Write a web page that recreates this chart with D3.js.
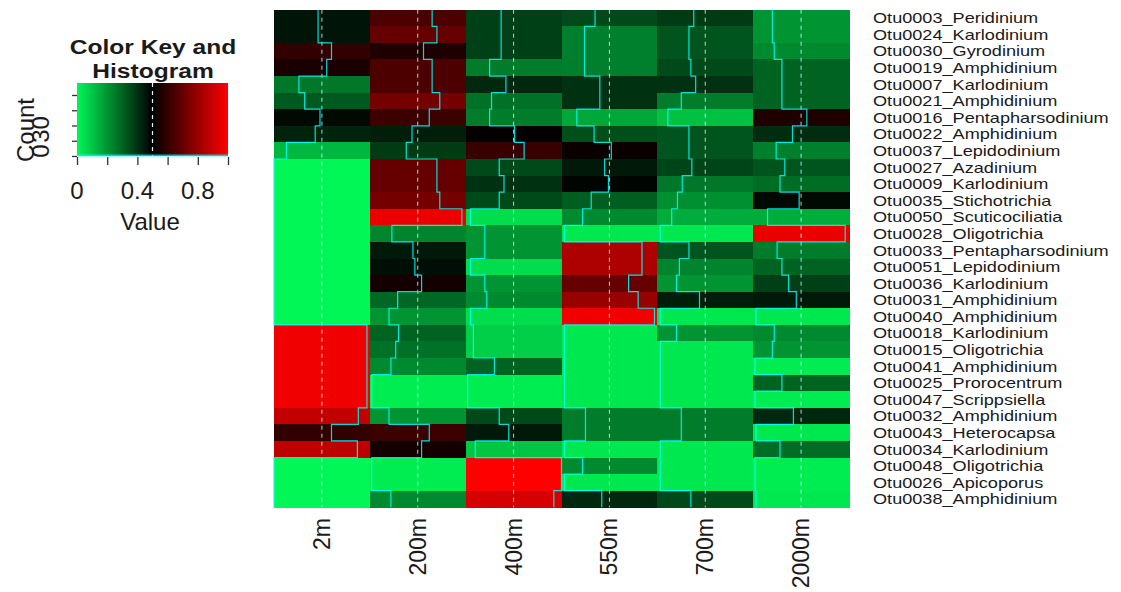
<!DOCTYPE html>
<html>
<head>
<meta charset="utf-8">
<script src="https://cdn.jsdelivr.net/npm/d3@7"></script>
<style>
  body { margin: 0; background: #fff; }
  svg { display: block; }
  text { font-family: "Liberation Sans", Arial, Helvetica, sans-serif; fill: #1a1a1a; }
</style>
</head>
<body>
<svg id="chart" width="1121" height="592"></svg>
<script>
// Sampling depths (heatmap columns)
const depths = ["2m", "200m", "400m", "550m", "700m", "2000m"];

// OTUs in dendrogram order (heatmap rows, top to bottom)
const otus = [
  "Otu0003_Peridinium", "Otu0024_Karlodinium", "Otu0030_Gyrodinium", "Otu0019_Amphidinium",
  "Otu0007_Karlodinium", "Otu0021_Amphidinium", "Otu0016_Pentapharsodinium", "Otu0022_Amphidinium",
  "Otu0037_Lepidodinium", "Otu0027_Azadinium", "Otu0009_Karlodinium", "Otu0035_Stichotrichia",
  "Otu0050_Scuticociliatia", "Otu0028_Oligotrichia", "Otu0033_Pentapharsodinium", "Otu0051_Lepidodinium",
  "Otu0036_Karlodinium", "Otu0031_Amphidinium", "Otu0040_Amphidinium", "Otu0018_Karlodinium",
  "Otu0015_Oligotrichia", "Otu0041_Amphidinium", "Otu0025_Prorocentrum", "Otu0047_Scrippsiella",
  "Otu0032_Amphidinium", "Otu0043_Heterocapsa", "Otu0034_Karlodinium", "Otu0048_Oligotrichia",
  "Otu0026_Apicoporus", "Otu0038_Amphidinium"
];

// Scaled relative abundance (0..1) per depth, one value per OTU in the order above
const v2m    = [0.46, 0.46, 0.60, 0.55, 0.26, 0.32, 0.48, 0.43, 0.13, 0.00, 0.00, 0.00, 0.00, 0.00, 0.00,
                0.00, 0.00, 0.00, 0.00, 0.97, 0.97, 0.97, 0.97, 0.97, 0.88, 0.60, 0.87, 0.00, 0.00, 0.00];
const v200m  = [0.65, 0.70, 0.56, 0.65, 0.65, 0.73, 0.62, 0.44, 0.38, 0.70, 0.70, 0.73, 0.96, 0.23, 0.45,
                0.47, 0.54, 0.29, 0.20, 0.30, 0.27, 0.22, 0.02, 0.02, 0.20, 0.62, 0.54, 0.02, 0.02, 0.22];
const v400m  = [0.37, 0.37, 0.37, 0.25, 0.42, 0.27, 0.25, 0.51, 0.61, 0.35, 0.40, 0.35, 0.05, 0.20, 0.20,
                0.05, 0.20, 0.22, 0.05, 0.08, 0.08, 0.30, 0.02, 0.02, 0.35, 0.45, 0.10, 1.00, 1.00, 0.92];
const v550m  = [0.35, 0.24, 0.24, 0.24, 0.40, 0.40, 0.16, 0.34, 0.52, 0.45, 0.49, 0.31, 0.22, 0.03, 0.84,
                0.84, 0.70, 0.80, 0.97, 0.03, 0.03, 0.03, 0.03, 0.03, 0.25, 0.25, 0.03, 0.22, 0.03, 0.42];
const v700m  = [0.38, 0.33, 0.33, 0.35, 0.40, 0.25, 0.11, 0.33, 0.33, 0.36, 0.26, 0.21, 0.15, 0.03, 0.33,
                0.23, 0.20, 0.44, 0.03, 0.20, 0.03, 0.03, 0.03, 0.03, 0.25, 0.25, 0.03, 0.03, 0.03, 0.35];
const v2000m = [0.20, 0.20, 0.22, 0.30, 0.30, 0.30, 0.56, 0.41, 0.24, 0.33, 0.28, 0.48, 0.15, 0.96, 0.25,
                0.30, 0.37, 0.45, 0.03, 0.22, 0.20, 0.02, 0.30, 0.02, 0.42, 0.03, 0.28, 0.02, 0.02, 0.03];

const seriesByDepth = [v2m, v200m, v400m, v550m, v700m, v2000m];

// Colour key axis
const keyTicks = [0, 0.2, 0.4, 0.6, 0.8, 1];
const keyLabels = [0, 0.4, 0.8];
const countTicks = [0, 15, 30, 45, 60];
const countLabels = [0, 30];
const traceLevel = 0.5;
const keyTitle = ["Color Key and", "Histogram"];

const svg = d3.select("#chart");

const color = d3.scaleLinear()
  .domain([0, 0.5, 1])
  .range(["#00f755", "#000000", "#ff0000"])
  .interpolate(d3.interpolateRgb);

const x = d3.scaleBand().domain(depths).range([274, 849]).padding(0);
const y = d3.scaleBand().domain(otus).range([9.7, 507.3]).padding(0);

// Long-format table for the cells
const cells = [];
depths.forEach((d, i) => otus.forEach((o, j) => cells.push({ depth: d, otu: o, value: seriesByDepth[i][j] })));

const heat = svg.append("g");
heat.selectAll("rect")
  .data(cells)
  .join("rect")
  .attr("x", d => x(d.depth))
  .attr("y", d => y(d.otu))
  .attr("width", x.bandwidth() + 0.6)
  .attr("height", y.bandwidth() + 0.6)
  .attr("fill", d => color(d.value))
  .attr("shape-rendering", "crispEdges");

// Column traces: dashed reference line at 0.5 and a step line at each cell's value
const traceCol = "#00ffff";
const traces = svg.append("g");
depths.forEach((d, i) => {
  const xc = d3.scaleLinear().domain([0, 1]).range([x(d), x(d) + x.bandwidth()]);
  traces.append("line")
    .attr("x1", xc(traceLevel)).attr("x2", xc(traceLevel))
    .attr("y1", y.range()[0]).attr("y2", y.range()[1])
    .attr("stroke", "#b8ffff").attr("stroke-width", 1)
    .attr("stroke-dasharray", "4,4").attr("opacity", 0.85);
  const pts = [];
  otus.forEach((o, j) => {
    const v = seriesByDepth[i][j];
    pts.push([xc(v), y(o)]);
    pts.push([xc(v), y(o) + y.bandwidth()]);
  });
  traces.append("path")
    .attr("d", d3.line()(pts))
    .attr("fill", "none")
    .attr("stroke", traceCol)
    .attr("stroke-width", 1.2)
    .attr("opacity", 0.85);
});

// Row labels (slightly widened glyphs)
svg.append("g").selectAll("text")
  .data(otus)
  .join("text")
  .attr("transform", d => `translate(873,${y(d) + y.bandwidth() / 2}) scale(1.25,1)`)
  .attr("dominant-baseline", "central")
  .attr("font-size", 14.5)
  .attr("fill", "#222")
  .text(d => d);

// Column labels
svg.append("g").selectAll("text")
  .data(depths)
  .join("text")
  .attr("transform", d => `translate(${x(d) + x.bandwidth() / 2},518) rotate(-90)`)
  .attr("text-anchor", "end")
  .attr("dominant-baseline", "central")
  .attr("font-size", 23)
  .text(d => d);

// ---- Colour key with histogram ----
const kx = d3.scaleLinear().domain([0, 1]).range([77, 228]);
const ky = d3.scaleLinear().domain([0, 60]).range([156, 95]);
const keyTop = 83, keyBottom = 156;

const grad = svg.append("defs").append("linearGradient").attr("id", "keygrad");
d3.range(0, 1.0001, 0.05).forEach(t => {
  grad.append("stop").attr("offset", t).attr("stop-color", color(t));
});
svg.append("rect")
  .attr("x", kx(0)).attr("y", keyTop)
  .attr("width", kx(1) - kx(0)).attr("height", keyBottom - keyTop)
  .attr("fill", "url(#keygrad)");

svg.append("line")
  .attr("x1", kx(traceLevel)).attr("x2", kx(traceLevel))
  .attr("y1", keyTop).attr("y2", keyBottom)
  .attr("stroke", "#e8ffff").attr("stroke-dasharray", "4,4").attr("stroke-width", 1.2);

// histogram trace along the key floor
svg.append("line")
  .attr("x1", kx(0)).attr("x2", kx(1))
  .attr("y1", keyBottom - 0.5).attr("y2", keyBottom - 0.5)
  .attr("stroke", traceCol).attr("stroke-width", 2).attr("opacity", 0.7);

const xAxis = svg.append("g")
  .attr("transform", `translate(0,${keyBottom + 1})`)
  .call(d3.axisBottom(kx).tickValues(keyTicks).tickSize(8).tickFormat(""));
xAxis.select(".domain").remove();
xAxis.selectAll(".tick line").attr("stroke", "#333").attr("stroke-width", 1.3);

svg.append("g").selectAll("text")
  .data(keyLabels)
  .join("text")
  .attr("x", d => kx(d))
  .attr("y", 199)
  .attr("text-anchor", "middle")
  .attr("font-size", 24)
  .attr("fill", "#444")
  .text(d => d3.format("")(d));

const yAxis = svg.append("g")
  .attr("transform", `translate(${kx(0)},0)`)
  .call(d3.axisLeft(ky).tickValues(countTicks).tickSize(5).tickFormat(""));
yAxis.select(".domain").remove();
yAxis.selectAll(".tick line").attr("stroke", "#333").attr("stroke-width", 1.3);

svg.append("g").selectAll("text")
  .data(countLabels)
  .join("text")
  .attr("transform", d => `translate(40,${ky(d) - (d === 0 ? 5 : -4)}) rotate(-90)`)
  .attr("text-anchor", "middle")
  .attr("dominant-baseline", "central")
  .attr("font-size", 24)
  .attr("fill", "#444")
  .text(d => d);

svg.append("text")
  .attr("transform", "translate(25,130) rotate(-90)")
  .attr("text-anchor", "middle")
  .attr("dominant-baseline", "central")
  .attr("font-size", 24)
  .attr("fill", "#444")
  .text("Count");

svg.append("text")
  .attr("x", 150).attr("y", 230)
  .attr("text-anchor", "middle")
  .attr("font-size", 24)
  .attr("fill", "#444")
  .text("Value");

// Two-line key title, glyphs widened a little
svg.append("g").selectAll("text")
  .data(keyTitle)
  .join("text")
  .attr("transform", (d, i) => `translate(153,${54 + i * 24}) scale(1.17,1)`)
  .attr("text-anchor", "middle")
  .attr("font-size", 21).attr("font-weight", "bold")
  .text(d => d);
</script>
</body>
</html>
